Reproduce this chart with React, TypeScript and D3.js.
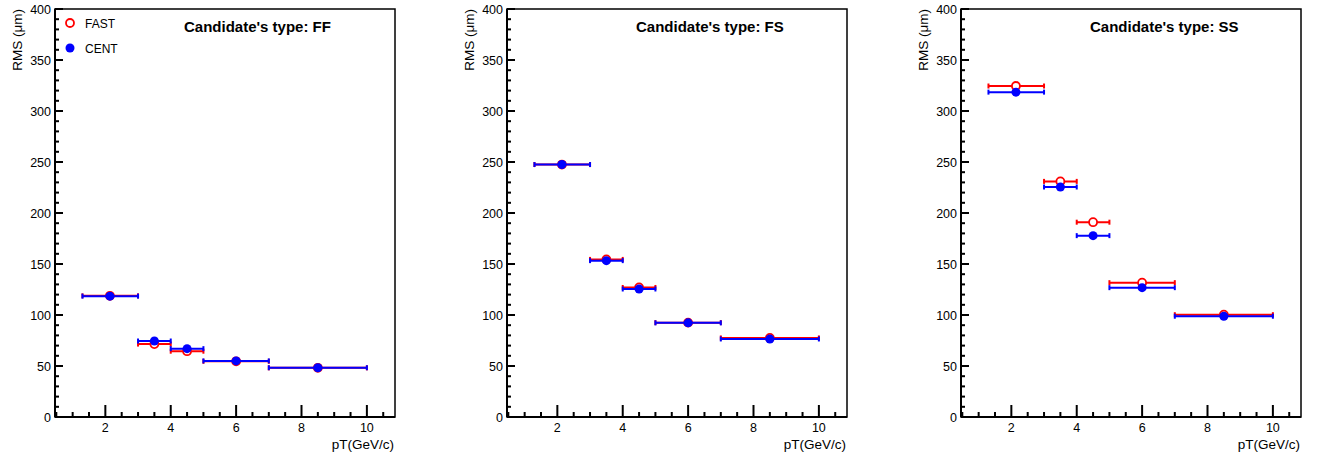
import React from "react";
import * as d3 from "d3";

// ---- data ----
const ptCenter = [2.14, 3.5, 4.5, 6.0, 8.5];
const ptLow = [1.3, 3, 4, 5, 7];
const ptHigh = [3, 4, 5, 7, 10];

const panelTitles = ["Candidate's type: FF", "Candidate's type: FS", "Candidate's type: SS"];

const ffFast = [118.8, 71.5, 64.5, 54.6, 48.2];
const ffCent = [118.5, 74.5, 67.0, 55.0, 48.3];
const fsFast = [247.5, 154.5, 127.0, 92.5, 77.5];
const fsCent = [247.5, 153.3, 125.5, 92.3, 76.5];
const ssFast = [324.5, 231.0, 191.0, 131.7, 100.3];
const ssCent = [318.5, 225.5, 177.8, 126.8, 98.8];

const fastSeries = [ffFast, fsFast, ssFast];
const centSeries = [ffCent, fsCent, ssCent];

const xMajorTicks = [2, 4, 6, 8, 10];
const yMajorTicks = [0, 50, 100, 150, 200, 250, 300, 350, 400];

const legendLabels = ["FAST", "CENT"];

const RED = "#ff0000";
const BLUE = "#0000ff";
const FONT = "'Liberation Sans', Arial, Helvetica, sans-serif";

const panelLefts = [55, 507, 961];
const PW = 340;
const TOP = 9;
const BOTTOM = 417;

function Panel({ idx }: { idx: number }) {
  const left = panelLefts[idx];
  const x = d3.scaleLinear().domain([0.46, 10.86]).range([left, left + PW]);
  const y = d3.scaleLinear().domain([0, 400]).range([BOTTOM, TOP]);

  const xMinor = d3.range(0.5, 10.86, 0.5).filter((v) => !xMajorTicks.includes(v) && v >= 0.46);
  const yMinor = d3.range(0, 401, 10).filter((v) => v % 50 !== 0);

  const fast = fastSeries[idx];
  const cent = centSeries[idx];

  const drawSeries = (vals: number[], color: string, open: boolean) =>
    vals.map((v, i) => {
      const cy = y(v);
      const x0 = x(ptLow[i]);
      const x1 = x(ptHigh[i]);
      const cx = x(ptCenter[i]);
      return (
        <g key={color + i}>
          <line x1={x0} x2={x1} y1={cy} y2={cy} stroke={color} strokeWidth={2} />
          <line x1={x0} x2={x0} y1={cy - 2.5} y2={cy + 2.5} stroke={color} strokeWidth={2} />
          <line x1={x1} x2={x1} y1={cy - 2.5} y2={cy + 2.5} stroke={color} strokeWidth={2} />
          {open ? (
            <circle cx={cx} cy={cy} r={4} fill="#fff" stroke={color} strokeWidth={1.8} />
          ) : (
            <circle cx={cx} cy={cy} r={4.5} fill={color} />
          )}
        </g>
      );
    });

  return (
    <g>
      <rect x={left} y={TOP} width={PW} height={BOTTOM - TOP} fill="none" stroke="#000" strokeWidth={1.5} />
      <line x1={left} x2={left} y1={TOP} y2={BOTTOM} stroke="#000" strokeWidth={2} />
      <line x1={left} x2={left + PW} y1={BOTTOM} y2={BOTTOM} stroke="#000" strokeWidth={2} />
      {xMajorTicks.map((t) => (
        <g key={"xm" + t}>
          <line x1={x(t)} x2={x(t)} y1={BOTTOM} y2={BOTTOM - 12} stroke="#000" strokeWidth={2} />
          <text x={x(t)} y={432} textAnchor="middle" fontSize={12.5} fontFamily={FONT} fill="#000">
            {t}
          </text>
        </g>
      ))}
      {xMinor.map((t) => (
        <line key={"xn" + t} x1={x(t)} x2={x(t)} y1={BOTTOM} y2={BOTTOM - 5} stroke="#000" strokeWidth={2} />
      ))}
      {yMajorTicks.map((t) => (
        <g key={"ym" + t}>
          <line x1={left} x2={left + 8} y1={y(t)} y2={y(t)} stroke="#000" strokeWidth={2} />
          <text x={left - 4} y={y(t) + 4.5} textAnchor="end" fontSize={12.5} fontFamily={FONT} fill="#000">
            {t}
          </text>
        </g>
      ))}
      {yMinor.map((t) => (
        <line key={"yn" + t} x1={left} x2={left + 4} y1={y(t)} y2={y(t)} stroke="#000" strokeWidth={2} />
      ))}
      <text
        transform={`translate(${left - 33},${TOP}) rotate(-90)`}
        textAnchor="end"
        fontSize={13.5}
        fontFamily={FONT}
        fill="#000"
      >
        RMS (μm)
      </text>
      <text x={left + PW - 1} y={449} textAnchor="end" fontSize={13.5} fontFamily={FONT} fill="#000">
        pT(GeV/c)
      </text>
      <text x={left + 129} y={32} fontSize={15} fontWeight="bold" fontFamily={FONT} fill="#000">
        {panelTitles[idx]}
      </text>
      {drawSeries(fast, RED, true)}
      {drawSeries(cent, BLUE, false)}
      {idx === 0 && (
        <g>
          <circle cx={70} cy={23} r={4} fill="#fff" stroke={RED} strokeWidth={1.8} />
          <text x={85} y={27.5} fontSize={12} fontFamily={FONT} fill="#000">
            {legendLabels[0]}
          </text>
          <circle cx={70} cy={48} r={4.5} fill={BLUE} />
          <text x={85} y={52.5} fontSize={12} fontFamily={FONT} fill="#000">
            {legendLabels[1]}
          </text>
        </g>
      )}
    </g>
  );
}

export default function App() {
  return (
    <svg width={1320} height={456} style={{ position: "absolute", left: 0, top: 0, background: "#fff" }}>
      <rect x={0} y={0} width={1320} height={456} fill="#fff" />
      {[0, 1, 2].map((i) => (
        <Panel key={i} idx={i} />
      ))}
    </svg>
  );
}
